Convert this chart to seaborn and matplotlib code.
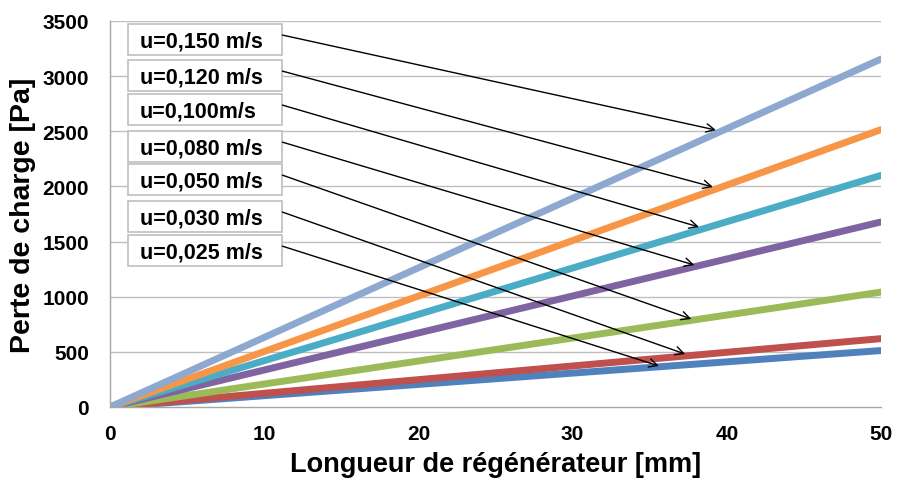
import numpy as np
import pandas as pd
import matplotlib
matplotlib.use("Agg")
import matplotlib.pyplot as plt
from matplotlib.patches import Rectangle
import seaborn as sns

# ---- data ----
series_labels = ["u=0,025 m/s", "u=0,030 m/s", "u=0,050 m/s", "u=0,080 m/s",
                 "u=0,100m/s", "u=0,120 m/s", "u=0,150 m/s"]
x_points = [0, 50]
end_values = [512, 620, 1042, 1678, 2100, 2515, 3155]
colors = ["#4F81BD", "#C0504D", "#9BBB59", "#8064A2", "#4BACC6", "#F79646", "#8EA9D0"]

# annotation layout (label boxes and arrow targets), top-to-bottom order
box_labels = ["u=0,150 m/s", "u=0,120 m/s", "u=0,100m/s", "u=0,080 m/s",
              "u=0,050 m/s", "u=0,030 m/s", "u=0,025 m/s"]
box_bottoms = [3192, 2865, 2557, 2221, 1922, 1587, 1278]
arrow_targets_x = [39.3, 39.1, 38.2, 37.9, 37.7, 37.3, 35.6]
arrow_targets_y = [2511, 1995, 1632, 1287, 798, 480, 372]

rows = []
for lab, v in zip(series_labels, end_values):
    for xv in x_points:
        rows.append({"x": xv, "y": v * xv / x_points[-1], "serie": lab})
df = pd.DataFrame(rows)

sns.set_style("white")
plt.rcParams["font.family"] = ["Liberation Sans", "DejaVu Sans"]
plt.rcParams["font.weight"] = "bold"
plt.rcParams["text.color"] = "black"
plt.rcParams["axes.labelcolor"] = "black"

fig = plt.figure(figsize=(8.97, 4.81), dpi=100)
ax = fig.add_axes([110 / 897, 73 / 481, (881 - 110) / 897, (408 - 22) / 481])

for y in range(500, 3501, 500):
    ax.axhline(y, color="#BFBFBF", lw=1, zorder=0)

sns.lineplot(data=df, x="x", y="y", hue="serie", hue_order=series_labels,
             palette=colors, lw=5, legend=False, ax=ax, zorder=2)

ax.set_xlim(0, 50)
ax.set_ylim(0, 3500)
ax.set_xticks(range(0, 51, 10))
ax.set_yticks(range(0, 3501, 500))

for s in ["top", "right"]:
    ax.spines[s].set_visible(False)
for s in ["left", "bottom"]:
    ax.spines[s].set_color("#A6A6A6")
    ax.spines[s].set_linewidth(1)

ax.tick_params(axis="y", direction="out", length=5, color="#A6A6A6", pad=10,
               labelsize=15, labelcolor="black")
ax.tick_params(axis="x", direction="out", length=4, color="#A6A6A6", pad=8,
               labelsize=15, labelcolor="black")
for t in ax.get_xticklabels() + ax.get_yticklabels():
    t.set_fontweight("bold")

ax.set_xlabel("Longueur de régénérateur [mm]", fontsize=19.5, fontweight="bold",
              labelpad=6)
ax.set_ylabel("Perte de charge [Pa]", fontsize=20.5, fontweight="bold", labelpad=5)

box_left, box_right, box_h = 1.17, 11.18, 281
for lab, yb, tx, ty in zip(box_labels, box_bottoms, arrow_targets_x, arrow_targets_y):
    ax.add_patch(Rectangle((box_left, yb), box_right - box_left, box_h,
                           facecolor="white", edgecolor="#BFBFBF", lw=1.2,
                           zorder=4, clip_on=False))
    ax.text(box_left + 0.75, yb + box_h / 2 - 10, lab, ha="left", va="center",
            fontsize=15.5, fontweight="bold", zorder=5)
    ax.annotate("", xy=(tx, ty), xytext=(box_right, yb + box_h / 2 + 40),
                arrowprops=dict(arrowstyle="->", color="black", lw=1,
                                mutation_scale=15, shrinkA=0, shrinkB=0),
                zorder=6)

fig.savefig("out.png", dpi=100)
